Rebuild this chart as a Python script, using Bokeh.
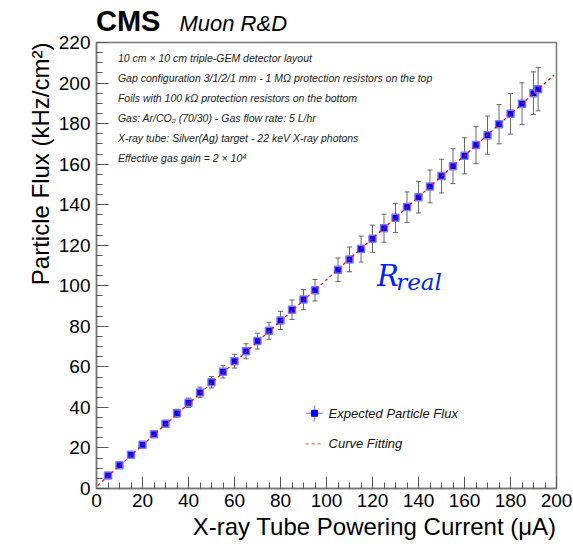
import numpy as np
from bokeh.plotting import figure
from bokeh.layouts import column
from bokeh.models import (ColumnDataSource, Whisker, TeeHead, Label, Title, Div,
                          SingleIntervalTicker, Range1d)
from bokeh.embed import file_html
from bokeh.resources import INLINE

# ---------------- data ----------------
current_uA = [5, 10, 15, 20, 25, 30, 35, 40, 45, 50, 55, 60, 65, 70, 75, 80, 85, 90, 95,
              105, 110, 115, 120, 125, 130, 135, 140, 145, 150, 155, 160, 165, 170, 175,
              180, 185, 190, 192]
flux_khz_cm2 = [6.4, 11.5, 16.6, 21.6, 26.8, 31.9, 37.1, 42.3, 47.4, 52.4, 57.6, 62.8,
                67.7, 72.7, 77.8, 82.9, 88.2, 93.2, 97.8,
                107.9, 113.0, 118.1, 123.2, 128.4, 133.5, 138.8, 143.7, 149.0, 154.1,
                159.0, 164.1, 169.4, 174.3, 179.7, 184.8, 189.8, 195.0, 197.0]
flux_err = [0.35, 0.6, 0.9, 1.2, 1.4, 1.7, 2.0, 2.3, 2.6, 2.8, 3.1, 3.4, 3.7, 3.9, 4.2,
            4.5, 4.8, 5.0, 5.3,
            5.8, 6.1, 6.4, 6.7, 6.9, 7.2, 7.5, 7.8, 8.1, 8.3, 8.6, 8.9, 9.2, 9.4, 9.7,
            10.0, 10.3, 10.5, 10.7]
fit_x = [0.5, 199.0]
fit_y = [1.5, 204.0]

x_title = "X-ray Tube Powering Current (\u03bcA)"
y_title = "Particle Flux (kHz/cm\u00b2)"
info_lines = [
    "10 cm \u00d7 10 cm triple-GEM detector layout",
    "Gap configuration 3/1/2/1 mm - 1 M\u03a9 protection resistors on the top",
    "Foils with 100 k\u03a9 protection resistors on the bottom",
    "Gas: Ar/CO\u2082 (70/30) - Gas flow rate: 5 L/hr",
    "X-ray tube: Silver(Ag) target - 22 keV X-ray photons",
    "Effective gas gain = 2 \u00d7 10\u2074",
]
legend_labels = ["Expected Particle Flux", "Curve Fitting"]

SANS = "Liberation Sans"

# ---------------- header strip (CMS  Muon R&D) ----------------
HEAD_H = 32
header = Div(
    text=('<div style="padding-left:96px;line-height:32px;white-space:nowrap;'
          'transform:translateY(5px);color:black;'
          "font:bold 29px/32px 'Liberation Sans',sans-serif;\">CMS"
          "<span style=\"font:italic 22px 'Liberation Sans',sans-serif;"
          'margin-left:19px;">Muon R&amp;D</span></div>'),
    width=573, height=HEAD_H, margin=0,
    styles={"margin": "0", "padding": "0", "overflow": "visible"})

# ---------------- main figure ----------------
p = figure(width=573, height=548 - HEAD_H, x_range=Range1d(0, 200), y_range=Range1d(0, 220),
           output_backend="svg", toolbar_location=None,
           min_border_left=96, min_border_right=17, min_border_top=42 - HEAD_H,
           min_border_bottom=60)
p.xgrid.visible = False
p.ygrid.visible = False
p.outline_line_color = "#777777"
p.outline_line_width = 1.5
p.background_fill_color = "white"
p.border_fill_color = "white"

for ax in (p.xaxis[0], p.yaxis[0]):
    ax.ticker = SingleIntervalTicker(interval=20, num_minor_ticks=4)
    ax.major_tick_in = 12
    ax.major_tick_out = 0
    ax.minor_tick_in = 6
    ax.minor_tick_out = 0
    ax.major_tick_line_color = "#555555"
    ax.minor_tick_line_color = "#555555"
    ax.axis_line_color = "#777777"
    ax.axis_line_width = 1.5
    ax.major_label_text_font = SANS
    ax.major_label_text_font_size = "19px"
    ax.major_label_text_color = "black"
p.xaxis[0].major_label_standoff = 5
p.yaxis[0].major_label_standoff = 6

# axis titles (ROOT style: right / top aligned)
p.add_layout(Title(text=x_title, align="right", text_font=SANS, text_font_size="24px",
                   text_font_style="normal", text_color="black", standoff=3), "below")
p.add_layout(Title(text=y_title, align="right", text_font=SANS, text_font_size="24px",
                   text_font_style="normal", text_color="black", standoff=4), "left")

src = ColumnDataSource(dict(
    x=current_uA, y=flux_khz_cm2,
    upper=np.array(flux_khz_cm2) + np.array(flux_err),
    lower=np.array(flux_khz_cm2) - np.array(flux_err)))

whisk = Whisker(source=src, base="x", upper="upper", lower="lower",
                line_color="#444444", line_alpha=0.8, line_width=1,
                upper_head=TeeHead(size=5, line_color="#444444", line_alpha=0.8),
                lower_head=TeeHead(size=5, line_color="#444444", line_alpha=0.8))
p.add_layout(whisk)

p.scatter("x", "y", source=src, marker="square", size=7, fill_color="#0000ff",
          line_color="#7a7aff", line_width=1.5)

p.line(fit_x, fit_y, line_color="#ff0000", line_width=1.2, line_dash="3 3")

# ---------------- legend (manual, ROOT style) ----------------
p.segment(x0=[91.1, 94.8], y0=[37.1, 33.2], x1=[98.5, 94.8], y1=[37.1, 41.0],
          line_color="#9a9aff", line_width=1.5)
p.scatter([94.8], [37.1], marker="square", size=6, fill_color="#0000ff",
          line_color="#0000ff")
p.line([90.9, 98.3], [22.0, 22.0], line_color="#ff4040", line_width=1, line_dash="3 3")
for txt, yy in zip(legend_labels, [37.1, 22.0]):
    p.add_layout(Label(x=100.9, y=yy, text=txt, text_font=SANS, text_font_style="italic",
                       text_font_size="13px", text_baseline="middle", text_color="#111111"))

# ---------------- info block ----------------
for i, line in enumerate(info_lines):
    ypx = 58 + 20 * i
    p.add_layout(Label(x=9.3, y=(488 - ypx) / 2.027, text=line, text_font=SANS,
                       text_font_style="italic", text_font_size="10.5px",
                       text_baseline="middle", text_color="#222222"))

# ---------------- R_real ----------------
p.add_layout(Label(x=122.0, y=104.6, text="R", text_font="DejaVu Serif",
                   text_font_style="italic", text_font_size="29px",
                   text_baseline="alphabetic", text_color="#0022ff"))
p.add_layout(Label(x=130.3, y=101.8, text="real", text_font="DejaVu Serif",
                   text_font_style="italic", text_font_size="23px",
                   text_baseline="alphabetic", text_color="#0022ff"))

layout = column(header, p, spacing=0)
open("out.html", "w").write(file_html(layout, INLINE))
